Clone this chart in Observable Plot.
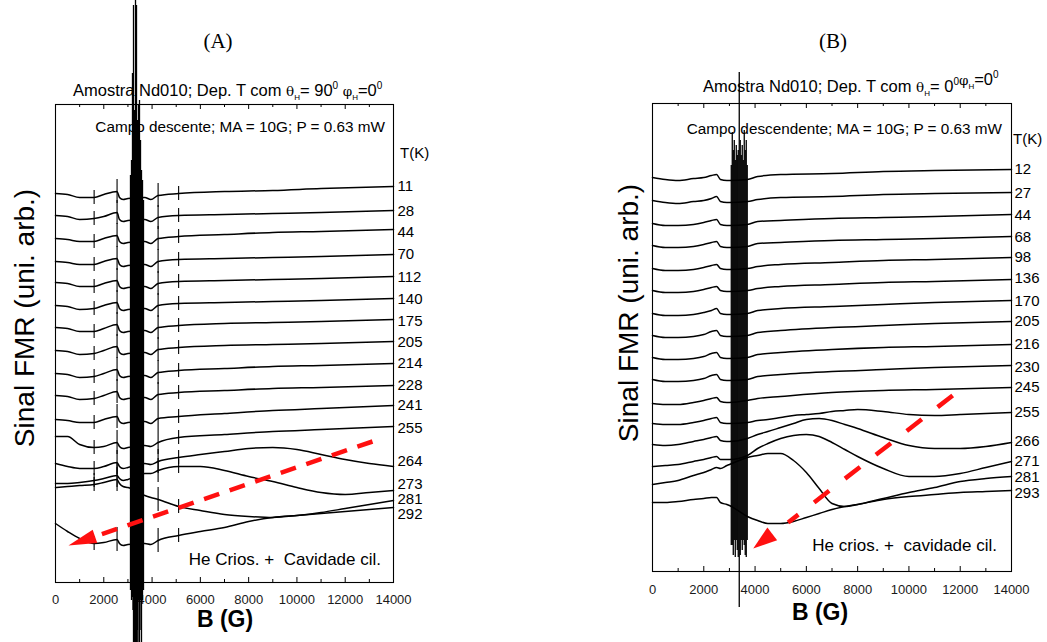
<!DOCTYPE html>
<html>
<head>
<meta charset="utf-8">
<script src="https://cdn.jsdelivr.net/npm/d3@7"></script>
<script src="https://cdn.jsdelivr.net/npm/@observablehq/plot@0.6"></script>
<style>
  body { margin: 0; background: #fff; }
  #wrap { position: relative; width: 1047px; height: 642px; overflow: hidden; background: #fff; }
  #wrap > div { position: absolute; top: 0; }
</style>
</head>
<body>
<div id="wrap"><div id="pa" style="left:0px"></div><div id="pb" style="left:523px"></div></div>
<script>
// ---------------- DATA: panel (A) θH = 90° ----------------
const fieldLowA = [0,500,1000,1600,2000,2550,2650,2800,3000,3700,3950,4250,5100,7000,9000,11000,14000];
const tempLowA = [11,28,44,70,112,140,175,205,214,228,241,255];
const signalLowA = [
  [389,388,385,385,388,391,385,383,384,385,383,387,389,391,392,394,396],
  [367,366,363,364,366,370,363,361,362,363,361,365,367,368,369,370,372],
  [344,343,341,341,344,347,341,339,340,341,339,344,346,348,350,351,353],
  [321,320,318,318,321,324,318,316,317,318,316,321,323,324,325,326,328],
  [300,299,296,296,299,302,296,294,295,296,294,299,301,302,303,304,306],
  [277,276,273,274,277,280,274,272,273,274,272,277,279,280,281,282,284],
  [255,254,251,251,254,258,252,250,251,252,250,255,257,259,260,261,263],
  [232,231,228,229,232,236,230,228,229,230,228,233,235,237,238,239,241],
  [209,208,205,206,209,213,207,205,206,207,205,210,212,214,216,217,219],
  [187,186,183,184,187,191,185,183,184,185,183,188,190,192,194,195,197],
  [163,162,160,160,163,166,161,159,160,161,159,164,166,169,172,174,177],
  [146,146,138,135,136,140,136,134,135,137,136,140,145,148,151,153,156]
];
const fieldHighA = [0,500,1000,1600,2000,2550,2650,2800,3000,3700,3950,4250,5100,6000,7000,8000,9000,10000,11000,12000,13000,14000];
const tempHighA = [264,273,281,292];
const signalHighA = [
  [119,116,114,114,116,120,116,114,115,119,118,121,125,128,131,134,135,133,128,123,119,116],
  [99,99,100,102,104,107,104,102,103,109,109,112,116,116,112,106,101,95,90,88,90,92],
  [95,96,97,98,100,103,99,96,95,87,85,83,76,72,68,66,65,67,70,74,78,82],
  [59,51,44,39,40,43,39,37,38,39,38,42,47,51,55,61,65,67,69,71,73,75]
];
const spikeFieldA = [1600,2550,4250,5100];
const spikeAmpA = [7,12,12,7];
const noiseFieldA = [3106,3148,3189,3210,3231,3251,3272,3293,3314,3334,3355,3376,3396,3417,3438,3479,3500,3521,3562,3604,3645];
const noiseTopA = [407,422,509,462,577,442,472,432,582,452,577,422,462,432,477,482,422,442,412,402,382];
const noiseBottomA = [-8,-18,-15,-28,-60,-43,-60,-18,-60,-38,-60,-60,-48,-60,-18,-60,-48,-18,-60,-18,-8];
const labelTextA = ["11","28","44","70","112","140","175","205","214","228","241","255","264","273","281","292"];
const labelSignalA = [396,371,350,328,305,283,261,240,219,197,177,154,121,98,83,68];
const arrowA = {b1: 13130, s1: 141, b2: 1636, s2: 46, tipB: 538, tipS: 37};

// ---------------- DATA: panel (B) θH = 0° ----------------
const fieldLowB = [0,500,1000,1600,2000,2300,2500,2650,2900,3000,3700,4100,5000,7000,9000,11000,14000];
const tempLowB = [12,27,44,68,98,136,170,205,216,230,245];
const signalLowB = [
  [394,392,391,393,394,396,397,392,391,391,392,395,397,398,400,401,402],
  [371,369,368,370,371,373,375,370,369,369,370,372,374,375,377,378,379],
  [348,346,346,347,349,351,352,347,346,346,347,350,351,353,354,355,357],
  [326,324,324,325,327,329,330,325,324,324,325,328,329,331,332,333,335],
  [303,301,301,302,304,306,307,303,302,302,303,305,307,309,311,312,314],
  [281,279,279,280,282,284,285,281,280,280,281,283,285,287,289,290,292],
  [258,256,256,257,259,261,263,258,257,257,258,261,263,265,267,269,271],
  [236,234,234,235,237,240,241,236,235,235,236,239,241,244,246,248,250],
  [214,212,212,213,215,218,219,214,213,213,214,217,219,222,224,225,227],
  [192,190,190,191,193,196,197,192,191,191,192,195,197,200,202,204,206],
  [168,167,167,169,171,173,174,170,169,169,171,173,175,179,181,182,184]
];
const fieldHighB = [0,500,1000,1600,2000,2300,2500,2650,2900,3000,3700,4100,4500,5000,5500,6000,6500,7000,7500,8000,9000,10000,11000,12000,13000,14000];
const tempHighB = [255,266,271,281,293];
const signalHighB = [
  [148,147,147,149,151,153,154,149,148,148,149,151,152,154,156,157,158,160,161,162,160,157,156,157,158,159],
  [127,126,127,130,132,134,135,131,130,130,133,137,140,144,148,152,153,151,147,143,134,126,123,123,125,129],
  [105,106,107,110,112,114,115,112,112,112,116,123,128,133,136,137,135,129,122,115,103,95,95,98,104,110],
  [87,89,91,96,99,102,104,103,106,107,114,116,118,118,111,99,83,68,65,67,73,79,84,90,93,95],
  [69,69,70,72,73,74,74,69,67,66,55,51,48,48,50,54,58,62,65,67,72,75,77,79,80,81]
];
const noiseFieldB = [3072,3111,3150,3189,3228,3267,3306,3344,3383,3422,3461,3500,3539,3578,3617,3656,3694];
const noiseTopB = [406,439,421,431,411,426,416,421,499,431,416,426,411,441,421,431,406];
const noiseBottomB = [26,26,16,31,14,31,21,14,-36,16,31,21,31,26,16,14,31];
const labelTextB = ["12","27","44","68","98","136","170","205","216","230","245","255","266","271","281","293"];
const labelSignalB = [402,378,356,334,314,293,270,250,227,204,184,159,130,110,94,78];
const arrowB = {b1: 11706, s1: 176, b2: 5289, s2: 49, tipB: 3928, tipS: 23};

// ---------------- axis ticks ----------------
const majorTicks = [0,2000,4000,6000,8000,10000,12000,14000];
const minorTicks = [1000,3000,5000,7000,9000,11000,13000];

// ---------------- helpers ----------------
const SANS = '"Liberation Sans", Arial, Helvetica, sans-serif';
function tidy(fields, temps, rows) {
  return temps.flatMap((t, i) => fields.map((B, j) => ({T: t, B, s: rows[i][j]})));
}
function spikeRows(fields, temps, rows, sf, amps) {
  const out = [];
  temps.forEach((t, i) => sf.forEach((f, k) => {
    const v = rows[i][fields.indexOf(f)];
    out.push({B: f, lo: v - amps[k], hi: v + amps[k]});
  }));
  return out;
}
function headSymbol(len, wid) {
  return {draw(ctx) { ctx.moveTo(0, 0); ctx.lineTo(-wid / 2, len); ctx.lineTo(wid / 2, len); ctx.closePath(); }};
}

function buildPanel(p) {
  const curves = tidy(p.fieldLow, p.tempLow, p.sigLow).concat(tidy(p.fieldHigh, p.tempHigh, p.sigHigh));
  const noise = p.noiseField.map((B, i) => ({B, lo: p.noiseBottom[i], hi: p.noiseTop[i]}));
  const labels = p.labelText.map((t, i) => ({t, s: p.labelSignal[i]}));
  const marks = [
    Plot.frame({stroke: "#000", strokeWidth: 1.1}),
    Plot.ruleX(majorTicks, {x: d => d, y1: 0, y2: 5, stroke: "#000"}),
    Plot.ruleX(minorTicks, {x: d => d, y1: 0, y2: 3, stroke: "#000"}),
    Plot.ruleX(majorTicks, {x: d => d, y1: p.yTop - 5, y2: p.yTop, stroke: "#000"}),
    Plot.ruleX(minorTicks, {x: d => d, y1: p.yTop - 3, y2: p.yTop, stroke: "#000"}),
    Plot.axisX({ticks: majorTicks, tickSize: 0, tickPadding: p.tickPad, tickFormat: d => String(d),
      fontSize: 13, label: null, fill: "#1a1a1a"}),
    Plot.line(curves, {x: "B", y: "s", z: "T", stroke: "#000", strokeWidth: 1.5, curve: "monotone-x"})
  ];
  if (p.spikes) marks.push(Plot.ruleX(p.spikes, {x: "B", y1: "lo", y2: "hi", stroke: "#000", strokeWidth: 1.1}));
  marks.push(
    Plot.ruleX(noise, {x: "B", y1: "lo", y2: "hi", stroke: "#000", strokeWidth: 1.3}),
    Plot.text(labels, {x: 14000, y: "s", text: "t", textAnchor: "start", dx: p.labelDx, fontSize: 15, fill: "#000"}),
    Plot.link([p.arrow], {x1: "b1", y1: "s1", x2: "b2", y2: "s2", stroke: "#ff1010", strokeWidth: 4.5, strokeDasharray: p.dash}),
    Plot.dot([p.arrow], {x: "tipB", y: "tipS", symbol: p.head, r: 8, fill: "#ff1010", stroke: "none", rotate: p.headRotate})
  );
  const svg = Plot.plot({
    width: p.width, height: 642,
    marginLeft: p.ml, marginRight: p.mr, marginTop: p.mt, marginBottom: p.mb,
    x: {domain: [0, 14000]},
    y: {domain: [0, p.yTop], axis: null},
    style: {background: "transparent", overflow: "visible", fontFamily: SANS, fontSize: "13px", color: "#000"},
    marks
  });
  // annotation texts, placed underneath the marks
  const g = d3.select(svg).insert("g", ":first-child")
    .attr("font-family", SANS).attr("fill", "#000").attr("text-anchor", "start");
  p.texts(g);
  return svg;
}

function titleText(g, x, y, parts) {
  const t = g.append("text").attr("x", x).attr("y", y).attr("font-size", 16.5).attr("text-anchor", "start");
  parts.forEach(([str, kind]) => {
    const s = t.append("tspan").text(str);
    if (kind === "sub") s.attr("font-size", 8).attr("dy", 4);
    else if (kind === "subEnd") s.attr("dy", -4);
    else if (kind === "sup") s.attr("font-size", 10).attr("dy", -7);
    else if (kind === "supEnd") s.attr("dy", 7);
    else if (kind === "greek") s.attr("font-size", 13.5).attr("font-family", '"DejaVu Serif", serif');
  });
}

const titlePartsA = [["Amostra Nd010; Dep. T com "], ["θ", "greek"], ["H", "sub"], ["= 90", "subEnd"], ["0", "sup"], [" ", "supEnd"], ["φ", "greek"], ["H", "sub"], ["=0", "subEnd"], ["0", "sup"]];
const titlePartsB = [["Amostra Nd010; Dep. T com "], ["θ", "greek"], ["H", "sub"], ["= 0", "subEnd"], ["0", "sup"], ["", "supEnd"], ["φ", "greek"], ["H", "sub"], ["=0", "subEnd"], ["0", "sup"]];

function commonTexts(g, o) {
  g.append("text").attr("x", o.panelX).attr("y", 48).attr("text-anchor", "middle")
    .attr("font-family", '"Liberation Serif", "DejaVu Serif", serif').attr("font-size", 21).text(o.panel);
  titleText(g, o.titleX, o.titleY, o.titleParts);
  g.append("text").attr("x", o.condX).attr("y", o.condY).attr("text-anchor", "end").attr("font-size", 15.3).text(o.cond);
  g.append("text").attr("x", o.tkX).attr("y", o.tkY).attr("text-anchor", "start").attr("font-size", 15).text("T(K)");
  g.append("text").attr("x", o.setupX).attr("y", o.setupY).attr("text-anchor", "end").attr("font-size", 17).text(o.setup);
  g.append("text").attr("transform", `translate(${o.ylabX},${o.ylabY}) rotate(-90)`).attr("text-anchor", "middle")
    .attr("font-size", 28).text("Sinal FMR (uni. arb.)");
  g.append("text").attr("x", o.bX).attr("y", o.bY).attr("text-anchor", "middle").attr("font-size", 23)
    .attr("font-weight", "bold").text("B (G)");
}

const svgA = buildPanel({
  width: 523, ml: 55, mr: 130, mt: 104, mb: 60, yTop: 478, tickPad: 12, labelDx: 4,
  fieldLow: fieldLowA, tempLow: tempLowA, sigLow: signalLowA,
  fieldHigh: fieldHighA, tempHigh: tempHighA, sigHigh: signalHighA,
  spikes: spikeRows(fieldLowA, tempLowA, signalLowA, spikeFieldA, spikeAmpA)
    .concat(spikeRows(fieldHighA, tempHighA, signalHighA, spikeFieldA, spikeAmpA)),
  noiseField: noiseFieldA, noiseTop: noiseTopA, noiseBottom: noiseBottomA,
  labelText: labelTextA, labelSignal: labelSignalA,
  arrow: arrowA, dash: "16,11", head: headSymbol(28, 14), headRotate: -109,
  texts: g => commonTexts(g, {
    panel: "(A)", panelX: 218, titleX: 73, titleY: 96, titleParts: titlePartsA,
    cond: "Campo descente; MA = 10G; P = 0.63 mW", condX: 385, condY: 132,
    tkX: 400, tkY: 158, setup: "He Crios. +  Cavidade cil.", setupX: 381, setupY: 565,
    ylabX: 34, ylabY: 318, bX: 225, bY: 627
  })
});
const svgB = buildPanel({
  width: 524, ml: 129, mr: 36, mt: 103, mb: 71, yTop: 468, tickPad: 13, labelDx: 3,
  fieldLow: fieldLowB, tempLow: tempLowB, sigLow: signalLowB,
  fieldHigh: fieldHighB, tempHigh: tempHighB, sigHigh: signalHighB,
  spikes: null,
  noiseField: noiseFieldB, noiseTop: noiseTopB, noiseBottom: noiseBottomB,
  labelText: labelTextB, labelSignal: labelSignalB,
  arrow: arrowB, dash: "19,20", head: headSymbol(24, 16), headRotate: -127.5,
  texts: g => commonTexts(g, {
    panel: "(B)", panelX: 310, titleX: 180, titleY: 92, titleParts: titlePartsB,
    cond: "Campo descendente; MA = 10G; P = 0.63 mW", condX: 479, condY: 134,
    tkX: 490, tkY: 144, setup: "He crios. +  cavidade cil.", setupX: 474, setupY: 551,
    ylabX: 115, ylabY: 313, bX: 297, bY: 620
  })
});
document.getElementById("pa").appendChild(svgA);
document.getElementById("pb").appendChild(svgB);
</script>
</body>
</html>
